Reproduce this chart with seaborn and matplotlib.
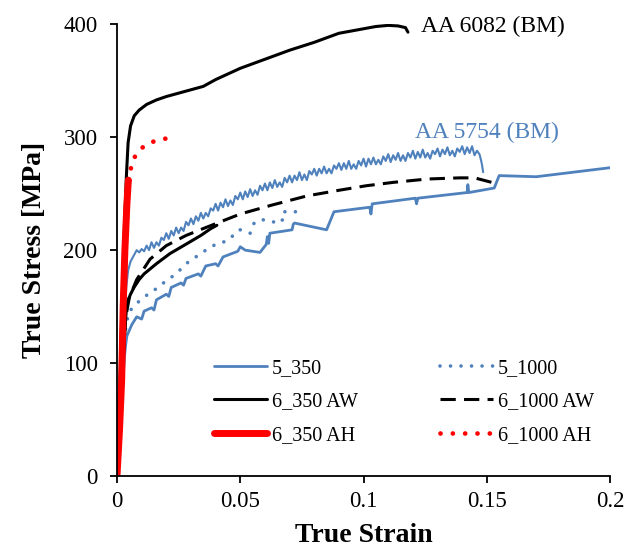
"""true stress - true strain curves of the AA5754 / AA6082 joints"""
import numpy as np
import matplotlib
matplotlib.use("Agg")
import matplotlib.pyplot as plt
import seaborn as sns

BLUE = "#4F81BD"
RED = "#FF0000"

# base metal AA 6082
bm6082_strain = [0, 0.001, 0.002, 0.003, 0.0038, 0.0045, 0.0055, 0.007, 0.009, 0.012,
                 0.016, 0.02, 0.025, 0.03, 0.035, 0.04, 0.05, 0.06, 0.07, 0.08,
                 0.09, 0.1, 0.105, 0.11, 0.114, 0.117, 0.118]
bm6082_stress = [0, 70, 150, 220, 265, 295, 310, 319, 324, 329,
                 333, 336, 339, 342, 345, 351, 361, 369, 377, 384,
                 392, 396, 398, 399, 398.5, 397, 393]

# base metal AA 5754 (serrated curve)
bm5754_strain = [0, 0.001, 0.002, 0.003, 0.0038, 0.0045, 0.0055, 0.007, 0.008, 0.009,
                 0.010, 0.011,
                 0.012, 0.013, 0.014, 0.015, 0.016, 0.017, 0.018, 0.019, 0.020, 0.021,
                 0.022, 0.023, 0.024, 0.025, 0.026, 0.027, 0.028, 0.029, 0.030, 0.031,
                 0.032, 0.033, 0.034, 0.035, 0.036, 0.037, 0.038, 0.039, 0.040, 0.041,
                 0.042, 0.043, 0.044, 0.045, 0.046, 0.047, 0.048, 0.049, 0.050, 0.051,
                 0.052, 0.053, 0.054, 0.055, 0.056, 0.057, 0.058, 0.059, 0.060, 0.061,
                 0.062, 0.063, 0.064, 0.065, 0.066, 0.067, 0.068, 0.069, 0.070, 0.071,
                 0.072, 0.073, 0.074, 0.075, 0.076, 0.077, 0.078, 0.079, 0.080, 0.081,
                 0.082, 0.083, 0.084, 0.085, 0.086, 0.087, 0.088, 0.089, 0.090, 0.091,
                 0.092, 0.093, 0.094, 0.095, 0.096, 0.097, 0.098, 0.099, 0.100, 0.101,
                 0.102, 0.103, 0.104, 0.105, 0.106, 0.107, 0.108, 0.109, 0.110, 0.111,
                 0.112, 0.113, 0.114, 0.115, 0.116, 0.117, 0.118, 0.119, 0.120, 0.121,
                 0.122, 0.123, 0.124, 0.125, 0.126, 0.127, 0.128, 0.129, 0.130, 0.131,
                 0.132, 0.133, 0.134, 0.135, 0.136, 0.137, 0.138, 0.139, 0.140, 0.141,
                 0.142, 0.143, 0.144, 0.145, 0.146, 0.147, 0.1475, 0.148, 0.1485]
bm5754_stress = [0, 45, 95, 140, 168, 182, 190, 196, 200, 198,
                 201, 199,
                 204, 200, 207, 202, 207, 204, 211, 209, 215, 210,
                 217, 213, 220, 215, 220, 217, 225, 222, 228, 223,
                 230, 226, 233, 228, 233, 230, 237, 235, 241, 235,
                 242, 238, 245, 239, 244, 240, 248, 245, 251, 245,
                 252, 247, 254, 248, 253, 249, 257, 253, 259, 253,
                 260, 255, 262, 256, 260, 256, 264, 260, 266, 260,
                 266, 262, 269, 262, 267, 262, 270, 267, 272, 266,
                 272, 268, 274, 268, 272, 268, 275, 272, 277, 271,
                 277, 272, 279, 272, 276, 272, 279, 275, 281, 274,
                 281, 276, 282, 276, 280, 276, 283, 279, 285, 278,
                 284, 280, 286, 279, 284, 279, 286, 282, 288, 281,
                 287, 282, 289, 282, 286, 281, 288, 285, 290, 283,
                 289, 285, 291, 284, 288, 283, 290, 287, 292, 285,
                 291, 286, 292, 284, 288, 285, 281, 276, 269]

# 5_350
s5_350_strain = [0, 0.001, 0.002, 0.003, 0.0035, 0.004, 0.006, 0.008, 0.010, 0.011,
                 0.014, 0.015, 0.016, 0.020, 0.021, 0.022, 0.026, 0.027, 0.028, 0.033,
                 0.034, 0.036, 0.040, 0.041, 0.043, 0.049, 0.050, 0.052, 0.058, 0.0605,
                 0.061, 0.0615, 0.062, 0.071, 0.0715, 0.072, 0.085, 0.088, 0.1025, 0.103,
                 0.1035, 0.121, 0.1215, 0.122, 0.142, 0.1423, 0.1427, 0.153, 0.155, 0.17,
                 0.2]
s5_350_stress = [0, 35, 70, 105, 116, 124, 134, 141, 139, 146,
                 149, 147, 156, 161, 159, 167, 171, 169, 175, 179,
                 177, 186, 188, 186, 194, 199, 203, 200, 198, 205,
                 212, 206, 215, 218, 223, 224, 218, 234, 238, 232,
                 241, 246, 241, 246, 251, 258, 251, 255, 266, 265,
                 273]

# 5_1000
s5_1000_strain = [0, 0.002, 0.0035, 0.0047, 0.008, 0.012, 0.016, 0.020, 0.024, 0.028,
                  0.032, 0.036, 0.039, 0.043, 0.046, 0.048, 0.050, 0.054, 0.055, 0.056,
                  0.059, 0.063, 0.067, 0.0672, 0.069, 0.073, 0.0755]
s5_1000_stress = [0, 80, 130, 145, 153, 160, 166, 173, 179, 188,
                  194, 200, 204, 207, 210, 216, 218, 215, 222, 225,
                  227, 225, 225, 234, 234, 234, 233]

# 6_350 AW
s6_350aw_strain = [0, 0.001, 0.002, 0.003, 0.004, 0.0055, 0.0069, 0.009, 0.011, 0.016,
                   0.0215, 0.027, 0.034, 0.038, 0.0405]
s6_350aw_stress = [0, 40, 85, 125, 153, 161, 167, 174, 179, 188,
                   197, 204, 213, 219, 222]

# 6_1000 AW
s6_1000aw_strain = [0, 0.002, 0.0035, 0.005, 0.008, 0.0134, 0.02, 0.028, 0.036, 0.05,
                    0.063, 0.077, 0.09, 0.101, 0.112, 0.126, 0.139, 0.145, 0.152]
s6_1000aw_stress = [0, 80, 140, 158, 174, 192, 204, 213, 220, 232,
                    240, 248, 253, 257, 260, 263, 264, 264, 260]

# 6_350 AH
s6_350ah_strain = [0, 0.001, 0.0019, 0.0025, 0.0032, 0.004, 0.0046]
s6_350ah_stress = [0, 40, 85, 150, 200, 240, 262]

# 6_1000 AH
s6_1000ah_strain = [0, 0.0015, 0.0025, 0.0035, 0.0045, 0.0053, 0.006, 0.008, 0.0114, 0.0146,
                    0.0187, 0.0200]
s6_1000ah_stress = [0, 70, 140, 200, 250, 268, 277, 286, 293, 296,
                    298, 299]

xticks = [0, 0.05, 0.1, 0.15, 0.2]
xtick_labels = ["0", "0.05", "0.1", "0.15", "0.2"]
yticks = [0, 100, 200, 300, 400]


def line(ax, x, y, label=None, **kw):
    sns.lineplot(x=x, y=y, ax=ax, estimator=None, sort=False, label=label,
                 legend=label is not None, **kw)


sns.set_style("ticks")
plt.rcParams["font.family"] = ["Liberation Serif", "DejaVu Serif"]
plt.rcParams["text.color"] = "black"
plt.rcParams["axes.labelcolor"] = "black"

fig = plt.figure(figsize=(6.29, 5.51), dpi=100)
ax = fig.add_axes([0.186, 0.136, 0.784, 0.820])

line(ax, bm6082_strain, bm6082_stress, color="black", lw=2.2)
line(ax, bm5754_strain, bm5754_stress, color=BLUE, lw=1.5)
line(ax, s5_350_strain, s5_350_stress, "5_350", color=BLUE, lw=2.0)
line(ax, s5_1000_strain, s5_1000_stress, "5_1000", color=BLUE, lw=2.6,
     linestyle=(0, (0.01, 2.9)), dash_capstyle="round")
line(ax, s6_350aw_strain, s6_350aw_stress, "6_350 AW", color="black", lw=2.2)
line(ax, s6_1000aw_strain, s6_1000aw_stress, "6_1000 AW", color="black", lw=2.2,
     linestyle=(0, (5, 2.7)))
line(ax, s6_350ah_strain, s6_350ah_stress, "6_350 AH", color=RED, lw=5,
     solid_capstyle="round")
line(ax, s6_1000ah_strain, s6_1000ah_stress, "6_1000 AH", color=RED, lw=3.4,
     linestyle=(0, (0.01, 2.6)), dash_capstyle="round")

ax.text(0.1233, 398, "AA 6082 (BM)", fontsize=17, va="center", ha="left", color="black")
ax.text(0.121, 304, "AA 5754 (BM)", fontsize=17, va="center", ha="left", color=BLUE)

ax.set_xlim(0, 0.2)
ax.set_ylim(0, 400)
ax.set_xticks(xticks)
ax.set_xticklabels(xtick_labels)
ax.set_yticks(yticks)
ax.tick_params(labelsize=16.5, length=5, width=1.3, colors="black")
ax.tick_params(axis="x", pad=6)
ax.tick_params(axis="y", pad=9)
for s in ["left", "bottom"]:
    ax.spines[s].set_linewidth(1.3)
    ax.spines[s].set_color("black")
sns.despine(ax=ax)

ax.set_xlabel("True Strain", fontsize=20, fontweight="bold", labelpad=8)
ax.set_ylabel("True Stress [MPa]", fontsize=20, fontweight="bold", labelpad=12)

h, l = ax.get_legend_handles_labels()
order = ["5_350", "6_350 AW", "6_350 AH", "5_1000", "6_1000 AW", "6_1000 AH"]
hd = dict(zip(l, h))
ax.legend([hd[k] for k in order], order, ncol=2, frameon=False, fontsize=14.5,
          loc="upper left", bbox_to_anchor=(0.177, 0.281), borderpad=0,
          handlelength=2.6, handletextpad=0.25, columnspacing=4.1, labelspacing=0.7)

fig.savefig("out.png", dpi=100)
